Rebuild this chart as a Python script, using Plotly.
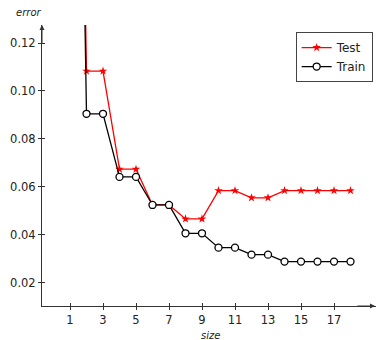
import plotly.graph_objects as go

sizes = list(range(1, 19))
test_err = [0.50, 0.1083, 0.1083, 0.0674, 0.0674, 0.0525, 0.0525, 0.0467, 0.0467,
            0.0585, 0.0585, 0.0555, 0.0555, 0.0585, 0.0585, 0.0585, 0.0585, 0.0585]
train_err = [0.50, 0.0905, 0.0905, 0.0642, 0.0642, 0.0525, 0.0525, 0.0407, 0.0407,
             0.0347, 0.0347, 0.0318, 0.0318, 0.0289, 0.0289, 0.0289, 0.0289, 0.0289]
x_ticks = [1, 3, 5, 7, 9, 11, 13, 15, 17]
y_ticks = [0.02, 0.04, 0.06, 0.08, 0.10, 0.12]

XR = [-0.697, 19.545]
YR = [0.0104, 0.1275]
FONT = "DejaVu Sans"

fig = go.Figure()
fig.add_trace(go.Scatter(
    x=sizes, y=test_err, name="Test", mode="lines+markers",
    line=dict(color="red", width=1.3),
    marker=dict(symbol="star", size=6.5, color="red"),
))
fig.add_trace(go.Scatter(
    x=sizes, y=train_err, name="Train", mode="lines+markers",
    line=dict(color="black", width=1.3),
    marker=dict(symbol="circle", size=7, color="white", line=dict(color="black", width=1.3)),
))

fig.update_layout(
    width=376, height=340,
    margin=dict(l=42, r=0, t=25, b=34),
    paper_bgcolor="white", plot_bgcolor="white",
    font=dict(family=FONT, size=11.5, color="#222"),
    xaxis=dict(range=XR, tickvals=x_ticks, ticktext=[str(v) for v in x_ticks],
               showgrid=False, zeroline=False, showline=True, linecolor="#333",
               linewidth=1, ticks="outside", ticklen=3, tickcolor="#333", automargin=False),
    yaxis=dict(range=YR, tickvals=y_ticks, ticktext=["%.2f" % v for v in y_ticks],
               showgrid=False, zeroline=False, showline=True, linecolor="#333",
               linewidth=1, ticks="outside", ticklen=3, tickcolor="#333", automargin=False),
    xaxis2=dict(range=XR, overlaying="x", tickvals=x_ticks, showticklabels=False,
                showgrid=False, zeroline=False, showline=False, ticks="inside",
                ticklen=3, tickcolor="#333", side="bottom", automargin=False),
    yaxis2=dict(range=YR, overlaying="y", tickvals=y_ticks, showticklabels=False,
                showgrid=False, zeroline=False, showline=False, ticks="inside",
                ticklen=3, tickcolor="#333", side="left", automargin=False),
    legend=dict(x=0.99, y=0.975, xanchor="right", yanchor="top",
                bgcolor="white", bordercolor="#444", borderwidth=1,
                font=dict(family=FONT, size=12, color="#222"),
                tracegroupgap=0, itemwidth=30),
    showlegend=True,
)
fig.add_trace(go.Scatter(x=[None], y=[None], xaxis="x2", yaxis="y2",
                         showlegend=False, hoverinfo="skip"))

fig.add_annotation(xref="paper", yref="paper", x=0, y=1.0, axref="pixel", ayref="pixel",
                   ax=0, ay=20, showarrow=True, arrowhead=2, arrowsize=1, arrowwidth=1,
                   arrowcolor="#333", text="")
fig.add_annotation(xref="paper", yref="paper", x=1.0, y=0, ax=-20, ay=0,
                   showarrow=True, arrowhead=2, arrowsize=1, arrowwidth=1,
                   arrowcolor="#333", text="")
fig.add_annotation(xref="paper", yref="paper", x=-0.04, y=1.0, yshift=13,
                   text="<i>error</i>", showarrow=False, xanchor="center", yanchor="middle",
                   font=dict(family=FONT, size=10, color="#222"))
fig.add_annotation(xref="paper", yref="paper", x=0.505, y=0, yshift=-29,
                   text="<i>size</i>", showarrow=False, xanchor="center", yanchor="middle",
                   font=dict(family=FONT, size=10, color="#222"))

fig.write_html("out.html", config={"displayModeBar": False},
               post_script="document.body.style.margin='0';document.body.style.overflow='hidden';")
